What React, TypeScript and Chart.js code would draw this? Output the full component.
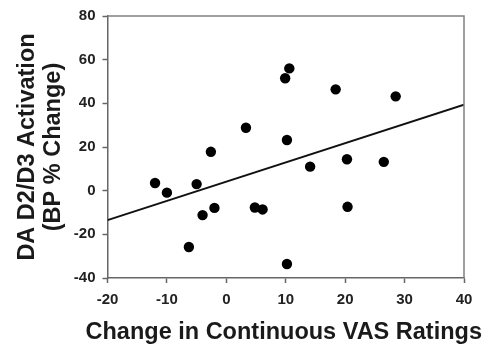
import React, { useEffect, useRef } from "react";
import { Chart, registerables } from "chart.js";

Chart.register(...registerables);

const vasChange = [-12.0, -10.0, -5.0, -4.0, -2.0, -6.3, -2.6, 3.3, 4.8, 6.1, 10.6, 9.9, 10.2, 10.2, 14.1, 18.4, 20.3, 20.4, 26.5, 28.5];
const bpChange = [3.5, -0.9, 3.0, -11.2, -7.9, -25.8, 17.8, 28.8, -7.7, -8.6, 56.0, 51.5, 23.2, -33.6, 11.0, 46.4, 14.4, -7.4, 13.2, 43.2];
const trendX = [-20, 40];
const trendY = [-13.5, 39.4];
const xTitle = "Change in Continuous VAS Ratings";
const yTitle = ["DA D2/D3 Activation", "(BP % Change)"];

const FONT = "'Liberation Sans', Arial, sans-serif";

const boxPlugin = {
  id: "boxFrame",
  afterDraw(chart: any) {
    const { ctx, chartArea } = chart;
    ctx.save();
    ctx.strokeStyle = "#808080";
    ctx.lineWidth = 1.5;
    ctx.beginPath();
    ctx.moveTo(chartArea.left, chartArea.top);
    ctx.lineTo(chartArea.right, chartArea.top);
    ctx.lineTo(chartArea.right, chartArea.bottom);
    ctx.stroke();
    // x-axis title drawn without width squeezing
    ctx.fillStyle = "#1a1a1a";
    ctx.font = `bold 23.5px ${FONT}`;
    ctx.textAlign = "center";
    ctx.textBaseline = "middle";
    ctx.fillText(xTitle, (chartArea.left + chartArea.right) / 2 - 2, 333);
    ctx.restore();
  },
};

export default function App() {
  const ref = useRef<HTMLCanvasElement>(null);
  useEffect(() => {
    if (!ref.current) return;
    const chart = new Chart(ref.current, {
      type: "scatter",
      data: {
        datasets: [
          {
            label: "trend",
            type: "line",
            data: trendX.map((x, i) => ({ x, y: trendY[i] })),
            borderColor: "#111",
            borderWidth: 2,
            pointRadius: 0,
            fill: false,
          } as any,
          {
            label: "subjects",
            data: vasChange.map((x, i) => ({ x, y: bpChange[i] })),
            backgroundColor: "#000",
            borderColor: "#000",
            pointRadius: 5.2,
            borderWidth: 0,
          },
        ],
      },
      plugins: [boxPlugin],
      options: {
        animation: false,
        responsive: false,
        layout: { padding: { top: 14, right: 24, left: 0, bottom: 0 } },
        plugins: { legend: { display: false }, tooltip: { enabled: false } },
        scales: {
          x: {
            type: "linear",
            min: -20,
            max: 40,
            ticks: { stepSize: 10, color: "#222", font: { family: FONT, size: 15, weight: "bold" }, padding: 8 },
            grid: { drawOnChartArea: false, drawTicks: true, tickLength: 5, tickColor: "#666", tickWidth: 1.5 },
            border: { color: "#666", width: 1.5 },
            title: { display: false, text: xTitle },
            afterFit: (s: any) => { s.height = 70; },
          },
          y: {
            type: "linear",
            min: -40,
            max: 80,
            ticks: { stepSize: 20, color: "#222", font: { family: FONT, size: 15, weight: "bold" }, padding: 7 },
            grid: { drawOnChartArea: false, drawTicks: true, tickLength: 5, tickColor: "#666", tickWidth: 1.5 },
            border: { color: "#666", width: 1.5 },
            title: { display: true, text: yTitle, color: "#1a1a1a", font: { family: FONT, size: 23.5, weight: "bold", lineHeight: 1.1 }, padding: { top: 15, bottom: 0 } },
            afterFit: (s: any) => { s.width = 107.5; },
          },
        },
      },
    });
    return () => chart.destroy();
  }, []);
  return (
    <div style={{ position: "fixed", left: 0, top: 0, width: 488, height: 348, background: "#fff" }}>
      <canvas ref={ref} width={488} height={348} style={{ width: 488, height: 348 }} />
    </div>
  );
}
